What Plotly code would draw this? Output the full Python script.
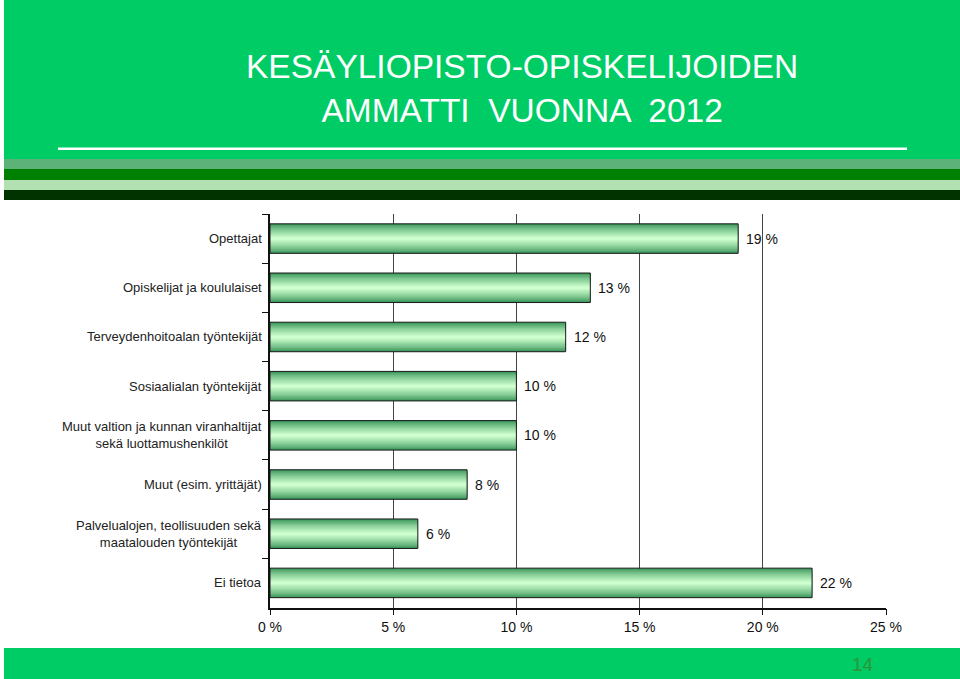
import plotly.graph_objects as go

# Ammatti vuonna 2012 - osuudet (%)
categories = [
    "Opettajat",
    "Opiskelijat ja koululaiset",
    "Terveydenhoitoalan työntekijät",
    "Sosiaalialan työntekijät",
    "Muut valtion ja kunnan viranhaltijat<br>sekä luottamushenkilöt",
    "Muut (esim. yrittäjät)",
    "Palvelualojen, teollisuuden sekä<br>maatalouden työntekijät",
    "Ei tietoa",
]
values = [19, 13, 12, 10, 10, 8, 6, 22]
x_ticks = [0, 5, 10, 15, 20, 25]
x_tick_labels = ["0 %", "5 %", "10 %", "15 %", "20 %", "25 %"]

title_lines = ["KESÄYLIOPISTO-OPISKELIJOIDEN", "AMMATTI  VUONNA  2012"]
page_number = "14"

GREEN = "#00CC66"
FONT = "Liberation Sans, Arial, sans-serif"

fig = go.Figure()

# fake a vertical gradient by stacking narrower, lighter bars on top of each other
dark = (58, 150, 90)
light = (206, 255, 206)
steps = 12
bar_w = 0.6
for i in range(steps):
    t = (i / (steps - 1)) ** 0.8
    c = tuple(round(dark[k] + (light[k] - dark[k]) * t) for k in range(3))
    fig.add_trace(go.Bar(
        x=values, y=categories, orientation="h",
        width=bar_w * (1 - i / steps),
        marker=dict(color="rgb(%d,%d,%d)" % c, line=dict(width=0)),
        hoverinfo="skip", showlegend=False,
    ))
# outline on top
fig.add_trace(go.Bar(
    x=values, y=categories, orientation="h", width=bar_w,
    marker=dict(color="rgba(0,0,0,0)", line=dict(color="#1a1a1a", width=1)),
    hoverinfo="skip", showlegend=False,
))

annotations = []
for cat, v in zip(categories, values):
    annotations.append(dict(
        x=v, y=cat, xref="x", yref="y", text="%d %%" % v,
        showarrow=False, xanchor="left", xshift=6,
        font=dict(family=FONT, size=14, color="#111"),
    ))
    annotations.append(dict(
        x=264 / 960, y=cat, xref="paper", yref="y", text=cat,
        showarrow=False, xanchor="right", align="center",
        font=dict(family=FONT, size=13, color="#222"),
    ))

# header title
annotations.append(dict(
    x=522 / 960, y=1 - 89 / 679, xref="paper", yref="paper",
    text="<br>".join(title_lines), showarrow=False,
    xanchor="center", yanchor="middle", align="center",
    font=dict(family=FONT, size=33.5, color="white"),
))
annotations.append(dict(
    x=863 / 960, y=1 - 664 / 679, xref="paper", yref="paper",
    text=page_number, showarrow=False, xanchor="center", yanchor="middle",
    font=dict(family=FONT, size=19, color="#2e9438"),
))

def band(y0, y1, color, x0=4 / 960, x1=1):
    return dict(type="rect", xref="paper", yref="paper", layer="below",
                x0=x0, x1=x1, y0=1 - y1 / 679, y1=1 - y0 / 679,
                fillcolor=color, line=dict(width=0))

shapes = [
    band(0, 159, GREEN),
    band(147.5, 150, "white", 58 / 960, 907 / 960),
    band(159, 169, "#5DB27A"),
    band(169, 180, "#008000"),
    band(180, 190, "#B3E0B3"),
    band(190, 200, "#003300"),
    band(648, 679, GREEN),
]
shapes[1]["layer"] = "above"

fig.update_layout(
    width=960, height=679,
    margin=dict(l=0, r=0, t=0, b=0),
    paper_bgcolor="white", plot_bgcolor="white",
    barmode="overlay",
    shapes=shapes,
    annotations=annotations,
    xaxis=dict(
        domain=[270 / 960, 886 / 960], range=[0, 25],
        tickmode="array", tickvals=x_ticks, ticktext=x_tick_labels,
        showgrid=True, gridcolor="#444", gridwidth=1,
        showline=True, linecolor="#111", linewidth=1.5,
        ticks="outside", ticklen=6, tickcolor="#111",
        tickfont=dict(family=FONT, size=14, color="#111"),
        zeroline=False, automargin=False,
    ),
    yaxis=dict(
        domain=[1 - 607.5 / 679, 1 - 214 / 679],
        categoryorder="array", categoryarray=categories,
        autorange="reversed",
        showticklabels=False,
        showline=True, linecolor="#111", linewidth=1.5,
        ticks="outside", ticklen=6, tickcolor="#111", tickson="boundaries",
        showgrid=False, zeroline=False, automargin=False,
    ),
)

# the page body has a default margin; drop it so the figure fills the window
fig.write_html("out.html", config={"displayModeBar": False},
               post_script="document.body.style.margin='0';")
